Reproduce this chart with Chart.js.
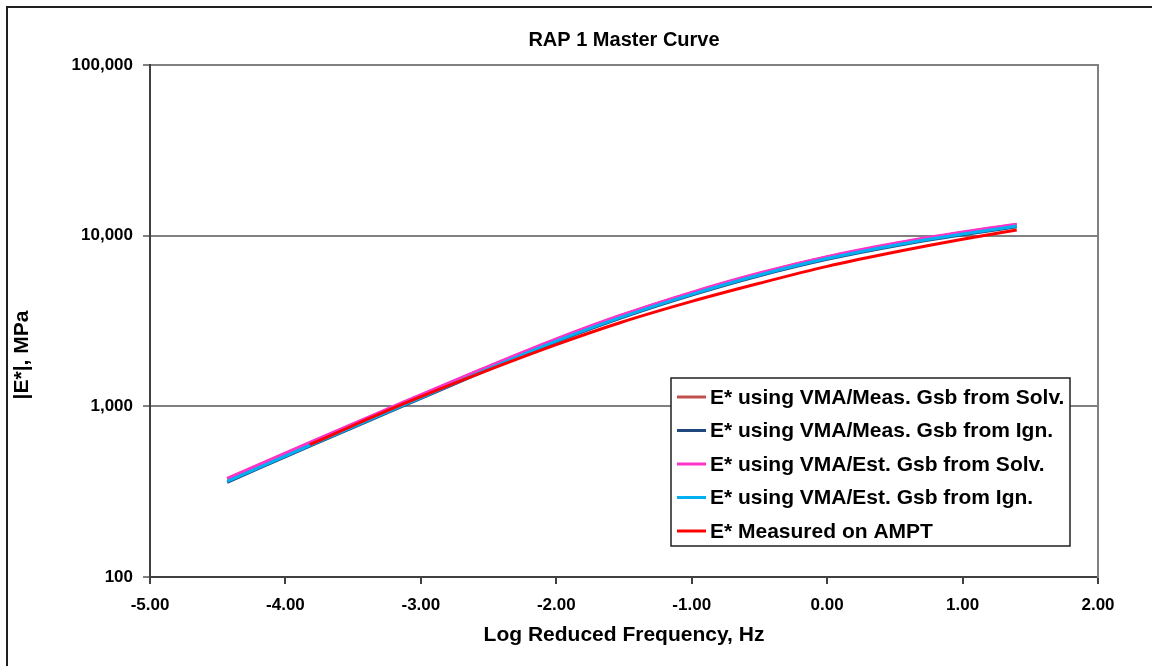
<!DOCTYPE html>
<html>
<head>
<meta charset="utf-8">
<script src="https://cdn.jsdelivr.net/npm/chart.js@4.4.1/dist/chart.umd.min.js"></script>
<style>
    html, body { margin: 0; padding: 0; background: #fff; overflow: hidden; }
    #wrap { position: relative; width: 1152px; height: 666px; }
    #frame {
        position: absolute; left: 6px; top: 6px; width: 1150px; height: 700px;
        border: 2px solid #202020; box-sizing: border-box; pointer-events: none;
    }
    canvas { position: absolute; left: 0; top: 0; }
</style>
</head>
<body>
<div id="wrap">
    <canvas id="chart" width="1152" height="666"></canvas>
    <div id="frame"></div>
</div>
<script>
// Log reduced frequency (Hz) for the fitted curves
const freqModel = [-4.43, -3.82, -3.45, -3.13, -2.56, -2.0, -1.53, -1.0, -0.5, 0.0, 0.54, 1.0, 1.4];
// Log reduced frequency for the AMPT measurements
const freqMeasured = [-3.82, -3.45, -3.13, -2.56, -2.0, -1.53, -1.0, -0.5, 0.0, 0.54, 1.0, 1.4];

// |E*| in MPa
const measGsbSolv = [376, 611, 818, 1053, 1633, 2471, 3387, 4633, 6009, 7496, 9095, 10443, 11610];
const measGsbIgn = [359, 584, 782, 1005, 1569, 2386, 3277, 4485, 5821, 7267, 8821, 10128, 11266];
const estGsbSolv = [378, 614, 822, 1059, 1641, 2483, 3404, 4656, 6039, 7534, 9141, 10495, 11668];
const estGsbIgn = [363, 590, 790, 1015, 1585, 2410, 3310, 4530, 5880, 7340, 8910, 10230, 11380];
const measuredAmpt = [596, 804, 1035, 1567, 2301, 3090, 4121, 5260, 6607, 8128, 9528, 10790];

const yTicks = [100, 1000, 10000, 100000];

const seriesLabels = [
    'E* using VMA/Meas. Gsb from Solv.',
    'E* using VMA/Meas. Gsb from Ign.',
    'E* using VMA/Est. Gsb from Solv.',
    'E* using VMA/Est. Gsb from Ign.',
    'E* Measured on AMPT'
];
const seriesColors = ['#C0504D', '#1F497D', '#FF33CC', '#00B0F0', '#FF0000'];

const chartTitle = 'RAP 1 Master Curve';
const yTitle = '|E*|, MPa';
const fontFamily = "'Liberation Sans', Arial, sans-serif";

function toPoints(xs, ys) {
    return xs.map((x, i) => ({ x: x, y: ys[i] }));
}

const datasets = [
    toPoints(freqModel, measGsbSolv),
    toPoints(freqModel, measGsbIgn),
    toPoints(freqModel, estGsbSolv),
    toPoints(freqModel, estGsbIgn),
    toPoints(freqMeasured, measuredAmpt)
].map((pts, i) => ({
    label: seriesLabels[i],
    data: pts,
    borderColor: seriesColors[i],
    backgroundColor: seriesColors[i],
    borderWidth: 3,
    pointRadius: 0,
    cubicInterpolationMode: 'monotone',
    fill: false,
    order: 4 - i   // later series end up on top
}));

// Title centred over the plot, plus the value axis title
const titles = {
    id: 'titles',
    afterDraw(chart) {
        const ctx = chart.ctx;
        const area = chart.chartArea;
        ctx.save();
        ctx.fillStyle = '#000';
        ctx.textAlign = 'center';
        ctx.textBaseline = 'middle';
        ctx.font = `bold 20px ${fontFamily}`;
        ctx.fillText(chartTitle, (area.left + area.right) / 2, 40);
        ctx.translate(22, 355);
        ctx.rotate(-Math.PI / 2);
        ctx.font = `bold 21px ${fontFamily}`;
        ctx.fillText(yTitle, 0, 0);
        ctx.restore();
    }
};

// Boxed legend drawn inside the plot area
const insideLegend = {
    id: 'insideLegend',
    afterDatasetsDraw(chart) {
        const ctx = chart.ctx;
        const box = { left: 671, top: 378, width: 399, height: 168 };
        ctx.save();
        ctx.fillStyle = '#ffffff';
        ctx.fillRect(box.left, box.top, box.width, box.height);
        ctx.strokeStyle = '#202020';
        ctx.lineWidth = 1.5;
        ctx.strokeRect(box.left, box.top, box.width, box.height);
        ctx.font = `bold 21px ${fontFamily}`;
        ctx.textBaseline = 'middle';
        ctx.fillStyle = '#000000';
        chart.data.datasets.forEach((ds, i) => {
            const y = box.top + 19 + i * 33.5;
            ctx.strokeStyle = ds.borderColor;
            ctx.lineWidth = 3;
            ctx.beginPath();
            ctx.moveTo(box.left + 6, y);
            ctx.lineTo(box.left + 35, y);
            ctx.stroke();
            ctx.fillText(ds.label, box.left + 39, y + 1);
        });
        ctx.restore();
    }
};

const tickFont = { family: fontFamily, size: 17, weight: 'bold' };

new Chart(document.getElementById('chart').getContext('2d'), {
    type: 'line',
    data: { datasets: datasets },
    options: {
        responsive: false,
        animation: false,
        layout: { padding: { left: 0, right: 54, top: 65, bottom: 0 } },
        plugins: {
            legend: { display: false },
            tooltip: { enabled: false },
            title: { display: false }
        },
        scales: {
            x: {
                type: 'linear',
                min: -5,
                max: 2,
                afterFit: (scale) => { scale.height = 89; },
                ticks: {
                    stepSize: 1,
                    color: '#000',
                    font: tickFont,
                    padding: 11,
                    callback: (v) => v.toFixed(2)
                },
                grid: { drawOnChartArea: false, drawTicks: true, tickLength: 7, color: '#404040', lineWidth: 2 },
                border: { color: '#404040', width: 2 },
                title: {
                    display: true,
                    text: 'Log Reduced Frequency, Hz',
                    color: '#000',
                    font: { family: fontFamily, size: 21, weight: 'bold' },
                    padding: { top: 0, bottom: 18 }
                }
            },
            y: {
                type: 'logarithmic',
                min: 100,
                max: 100000,
                afterFit: (scale) => { scale.width = 150; },
                afterBuildTicks: (scale) => {
                    scale.ticks = yTicks.map((v) => ({ value: v }));
                },
                ticks: {
                    color: '#000',
                    font: tickFont,
                    padding: 10,
                    callback: (v) => v.toLocaleString('en-US')
                },
                grid: { color: '#808080', lineWidth: 2, tickLength: 7 },
                border: { color: '#404040', width: 2 }
            },
            yRight: {
                type: 'logarithmic',
                position: 'right',
                min: 100,
                max: 100000,
                afterFit: (scale) => { scale.width = 0; },
                ticks: { display: false },
                grid: { display: false },
                border: { color: '#808080', width: 2 }
            }
        }
    },
    plugins: [titles, insideLegend]
});
</script>
</body>
</html>
